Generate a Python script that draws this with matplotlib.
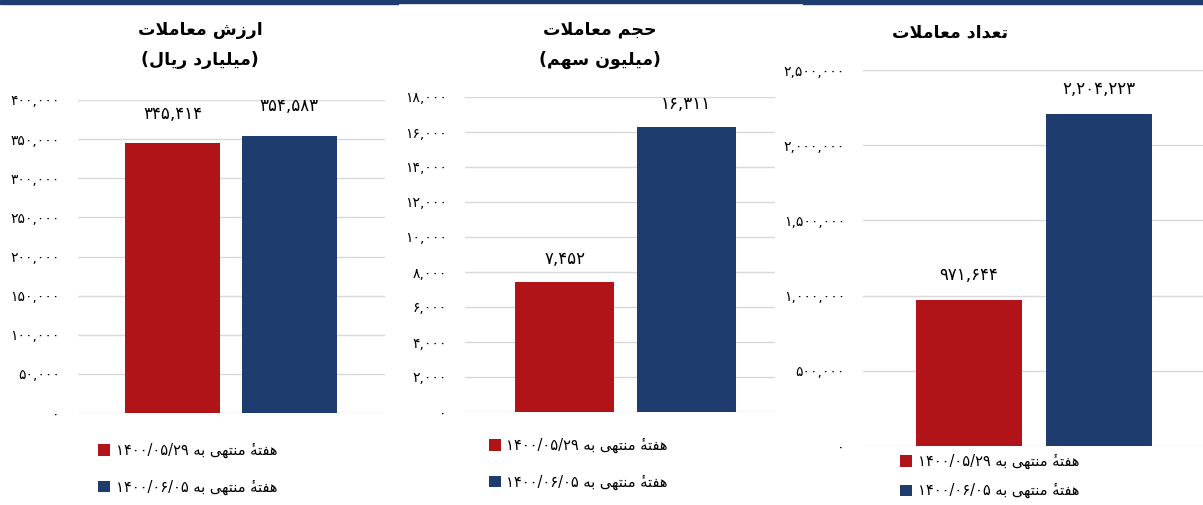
import re
import matplotlib
matplotlib.use("Agg")
from matplotlib import pyplot as plt
from matplotlib.patches import Rectangle

plt.rcParams['font.family'] = ['DejaVu Sans']

# ---- data ----
weeks = ["هفتهٔ منتهی به ۱۴۰۰/۰۵/۲۹", "هفتهٔ منتهی به ۱۴۰۰/۰۶/۰۵"]
titles = [["ارزش معاملات", "(میلیارد ریال)"],
          ["حجم معاملات", "(میلیون سهم)"],
          ["تعداد معاملات"]]
value_trade = [345414, 354583]      # میلیارد ریال
volume_trade = [7452, 16311]        # میلیون سهم
count_trade = [971644, 2204223]
ymax = [400000, 18000, 2500000]
ystep = [50000, 2000, 500000]

RED = "#b01419"
BLUE = "#1f3c6e"
GRID = "#d9d9d9"

# ---- minimal arabic/persian shaping (matplotlib has no bidi) ----
# letter: (isolated, final, initial, medial)
FORMS = {
    'ا': ('\uFE8D', '\uFE8E', None, None),
    'ب': ('\uFE8F', '\uFE90', '\uFE91', '\uFE92'),
    'ت': ('\uFE95', '\uFE96', '\uFE97', '\uFE98'),
    'ج': ('\uFE9D', '\uFE9E', '\uFE9F', '\uFEA0'),
    'ح': ('\uFEA1', '\uFEA2', '\uFEA3', '\uFEA4'),
    'د': ('\uFEA9', '\uFEAA', None, None),
    'ر': ('\uFEAD', '\uFEAE', None, None),
    'ز': ('\uFEAF', '\uFEB0', None, None),
    'س': ('\uFEB1', '\uFEB2', '\uFEB3', '\uFEB4'),
    'ش': ('\uFEB5', '\uFEB6', '\uFEB7', '\uFEB8'),
    'ع': ('\uFEC9', '\uFECA', '\uFECB', '\uFECC'),
    'ف': ('\uFED1', '\uFED2', '\uFED3', '\uFED4'),
    'ل': ('\uFEDD', '\uFEDE', '\uFEDF', '\uFEE0'),
    'م': ('\uFEE1', '\uFEE2', '\uFEE3', '\uFEE4'),
    'ن': ('\uFEE5', '\uFEE6', '\uFEE7', '\uFEE8'),
    'ه': ('\uFEE9', '\uFEEA', '\uFEEB', '\uFEEC'),
    'و': ('\uFEED', '\uFEEE', None, None),
    'ی': ('\uFEEF', '\uFEF0', '\uFEF3', '\uFEF4'),
}
MARKS = '\u064B-\u065F'


def shape(text):
    letters = list(text)
    out = []
    i = 0
    n = len(letters)

    def prev_letter(k):
        k -= 1
        while k >= 0 and re.match(f'[{MARKS}]', letters[k]):
            k -= 1
        return letters[k] if k >= 0 else None

    def next_letter(k):
        k += 1
        while k < n and re.match(f'[{MARKS}]', letters[k]):
            k += 1
        return letters[k] if k < n else None

    while i < n:
        c = letters[i]
        if c not in FORMS:
            out.append(c)
            i += 1
            continue
        p = prev_letter(i)
        nx = next_letter(i)
        pj = p in FORMS and FORMS[p][2] is not None
        if c == 'ل' and nx == 'ا':
            out.append('\uFEFC' if pj else '\uFEFB')
            i += 2
            continue
        nj = nx in FORMS and FORMS[c][2] is not None
        iso, fin, ini, med = FORMS[c]
        if pj and nj:
            out.append(med)
        elif pj:
            out.append(fin)
        elif nj:
            out.append(ini)
        else:
            out.append(iso)
        i += 1
    return ''.join(out)


def rtl(text):
    s = shape(text)
    tokens = re.findall(f'[۰-۹][۰-۹,/]*|.[{MARKS}]*', s)
    tokens = tokens[::-1]
    swap = {'(': ')', ')': '('}
    # put combining marks before their base so they land on it
    out = []
    for t in tokens:
        if len(t) > 1 and re.match(f'[{MARKS}]', t[1]):
            t = t[1:] + t[0]
        out.append(swap.get(t, t))
    return ''.join(out)


def fa_num(v):
    return f"{v:,}".translate(str.maketrans("0123456789", "۰۱۲۳۴۵۶۷۸۹"))


# ---- figure ----
fig = plt.figure(figsize=(12.03, 5.05), dpi=100)
W, H = 1203, 505


def px_axes(x0, y0, x1, y1):
    return fig.add_axes([x0 / W, 1 - y1 / H, (x1 - x0) / W, (y1 - y0) / H])


# top navy strips
for x0, x1, h in [(0, 398, 4), (398, 803, 3), (803, 1203, 4)]:
    fig.patches.append(Rectangle((x0 / W, 1 - h / H), (x1 - x0) / W, h / H,
                                 transform=fig.transFigure, color=BLUE, zorder=5))

panels = [
    dict(data=value_trade, box=(78, 100, 385, 413), xlim=(-0.81, 1.82), off=21,
         title_x=200, title_y=[30, 60], leg=(98, 443), lsp=1.45),
    dict(data=volume_trade, box=(465, 97, 775, 412), xlim=(-0.82, 1.73), off=16,
         title_x=600, title_y=[30, 60], leg=(489, 438), lsp=1.45),
    dict(data=count_trade, box=(863, 70, 1203, 446), xlim=(-0.815, 1.80), off=18,
         title_x=950, title_y=[32], leg=(900, 454), lsp=0.95),
]

for k, p in enumerate(panels):
    ax = px_axes(*p['box'])
    bars = ax.bar([0, 1], p['data'], width=0.815, color=[RED, BLUE], zorder=3)
    for b, lab in zip(bars, weeks):
        b.set_label(rtl(lab))
    ax.set_xlim(*p['xlim'])
    ax.set_ylim(0, ymax[k])
    ticks = list(range(0, ymax[k] + 1, ystep[k]))
    ax.set_yticks(ticks)
    ax.set_yticklabels([fa_num(t) for t in ticks], fontsize=10, color="#000000")
    ax.set_xticks([])
    ax.tick_params(axis='y', length=0, pad=13)
    ax.grid(axis='y', color=GRID, linewidth=1, zorder=0)
    for s in ax.spines.values():
        s.set_visible(False)
    for b, v in zip(bars, p['data']):
        ax.annotate(fa_num(v), (b.get_x() + b.get_width() / 2, v),
                    xytext=(0, p['off']), textcoords='offset points',
                    ha='center', va='center', fontsize=12, color="#000000")
    for t, ty in zip(titles[k], p['title_y']):
        fig.text(p['title_x'] / W, 1 - ty / H, rtl(t), ha='center', va='center',
                 fontsize=12.5, fontweight='bold', color="#000000")
    lx, ly = p['leg']
    ax.legend(loc='upper left', bbox_to_anchor=(lx / W, 1 - ly / H),
              bbox_transform=fig.transFigure, frameon=False, fontsize=10.5,
              handlelength=0.8, handleheight=0.8, handletextpad=0.4,
              labelspacing=p['lsp'], borderpad=0, borderaxespad=0)

fig.savefig("out.png", dpi=100)
